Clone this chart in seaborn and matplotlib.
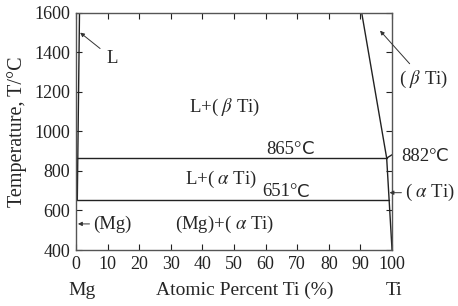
import matplotlib
matplotlib.use("Agg")
import matplotlib.pyplot as plt
import seaborn as sns
import pandas as pd

# phase boundaries (atomic % Ti, temperature in C)
liq_mg_x = [0.4, 1.1]
liq_mg_t = [651, 1600]
liq_ti_x = [90.4, 98.3]
liq_ti_t = [1600, 865]
transus_x = [98.3, 100.0]
transus_t = [865, 882]
solvus_x = [98.3, 100.0]
solvus_t = [865, 400]
peritectic_x = [0.0, 98.3]
peritectic_t = [865, 865]
eutectic_x = [0.0, 98.9]
eutectic_t = [651, 651]

x_ticks = list(range(0, 101, 10))
y_ticks = list(range(400, 1601, 200))

sns.set_theme(style="ticks")
plt.rcParams["font.family"] = ["Liberation Serif", "DejaVu Serif"]
plt.rcParams["mathtext.fontset"] = "stix"

fig = plt.figure(figsize=(4.58, 3.06), dpi=100)
ax = fig.add_axes([0.166, 0.183, 0.690, 0.775])

segments = [
    (liq_mg_x, liq_mg_t),
    (liq_ti_x, liq_ti_t),
    (transus_x, transus_t),
    (solvus_x, solvus_t),
    (peritectic_x, peritectic_t),
    (eutectic_x, eutectic_t),
]
for xs, ts in segments:
    df = pd.DataFrame({"x": xs, "t": ts})
    sns.lineplot(data=df, x="x", y="t", ax=ax, color="#222222", lw=1.0,
                 sort=False, estimator=None)

ax.set_xlim(0, 100)
ax.set_ylim(400, 1600)
ax.set_xticks(x_ticks)
ax.set_yticks(y_ticks)
ax.tick_params(direction="in", length=4, width=0.8, top=True, right=True,
               labelsize=13, colors="#222222", pad=4)
for s in ax.spines.values():
    s.set_color("#555555")
    s.set_linewidth(1.0)

ax.set_xlabel("Atomic Percent Ti (%)", fontsize=14)
ax.set_ylabel("Temperature, T/°C", fontsize=14.5)
ax.xaxis.set_label_coords(0.535, -0.135)
ax.yaxis.set_label_coords(-0.155, 0.5)

fs = 13.5
ax.text(47, 1120, r"L+( $\beta$ Ti)", fontsize=fs, ha="center", va="center")
ax.text(46, 755, r"L+( $\alpha$ Ti)", fontsize=fs, ha="center", va="center")
ax.text(47, 527, r"(Mg)+( $\alpha$ Ti)", fontsize=fs, ha="center", va="center")


# temperature labels: serif digits, sans C
def temp_label(x, y, num):
    ax.text(x, y, num + "°", fontsize=fs, ha="right", va="center")
    ax.text(x, y, "C", fontsize=fs - 0.5, ha="left", va="center",
            family=["DejaVu Sans"])


temp_label(71.5, 910, "865")
temp_label(70.0, 696, "651")
temp_label(114.0, 875, "882")

arrow = dict(arrowstyle="-|>", color="#333333", lw=0.7, mutation_scale=6)
ax.annotate("L", xy=(1.3, 1500), xytext=(11.5, 1370), fontsize=fs,
            ha="center", va="center",
            arrowprops=dict(arrow, shrinkA=3, shrinkB=0))
ax.annotate("(Mg)", xy=(0.6, 532), xytext=(5.3, 532), fontsize=fs,
            ha="left", va="center",
            arrowprops=dict(arrow, shrinkA=0, shrinkB=0))
ax.annotate(r"( $\beta$ Ti)", xy=(96.2, 1510), xytext=(102.3, 1262),
            fontsize=fs, ha="left", va="center", annotation_clip=False,
            arrowprops=dict(arrow, shrinkA=2, shrinkB=0))
ax.annotate(r"( $\alpha$ Ti)", xy=(99.2, 690), xytext=(104.0, 690),
            fontsize=fs, ha="left", va="center", annotation_clip=False,
            arrowprops=dict(arrow, shrinkA=0, shrinkB=0))

ax.text(2, 197, "Mg", fontsize=14, ha="center", va="center")
ax.text(100.5, 197, "Ti", fontsize=14, ha="center", va="center")

fig.savefig("out.png", dpi=100)
